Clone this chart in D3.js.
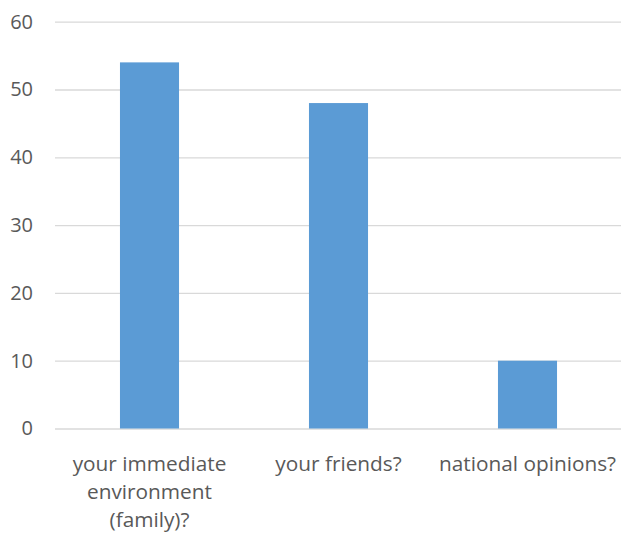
<!DOCTYPE html>
<html><head><meta charset="utf-8">
<script src="https://cdn.jsdelivr.net/npm/d3@7"></script>
<style>body{margin:0;background:#fff}</style>
</head><body>
<script>
const categories = ["your immediate environment (family)?", "your friends?", "national opinions?"];
const categoryLines = [["your immediate", "environment", "(family)?"], ["your friends?"], ["national opinions?"]];
const values = [54, 48, 10];
const yTicks = [0, 10, 20, 30, 40, 50, 60];

const W = 621, H = 534;
const svg = d3.select("body").append("svg").attr("width", W).attr("height", H);
const x = d3.scaleBand().domain(categories).range([55, 622]).paddingInner(0.6875).paddingOuter(0.34375);
const y = d3.scaleLinear().domain([0, 60]).range([428.5, 21.7]);
const font = "'Open Sans', sans-serif";

const yAxis = d3.axisLeft(y).tickValues(yTicks).tickSize(-(622 - 55)).tickPadding(22);
const gy = svg.append("g").attr("transform", "translate(55,0)").call(yAxis);
gy.select(".domain").remove();
gy.selectAll(".tick line").attr("stroke", "#d9d9d9").attr("stroke-width", 1.3);
gy.selectAll(".tick text").attr("fill", "#595959").style("font-family", font).style("font-size", "20px");

svg.append("g").selectAll("rect").data(values).join("rect")
  .attr("x", (d, i) => x(categories[i]))
  .attr("width", x.bandwidth())
  .attr("y", d => y(d))
  .attr("height", d => y(0) - y(d))
  .attr("fill", "#5b9bd5");

const xAxis = d3.axisBottom(x).tickSize(0).tickPadding(0).tickFormat("");
const gx = svg.append("g").attr("transform", `translate(0,${y(0)})`).call(xAxis);
gx.select(".domain").remove();
gx.selectAll(".tick").each(function(d, i) {
  const t = d3.select(this).append("text").attr("fill", "#595959").attr("text-anchor", "middle")
    .style("font-family", font).style("font-size", "20.8px");
  categoryLines[i].forEach((ln, j) => t.append("tspan").attr("x", 0).attr("y", 42 + j * 28).text(ln));
});
</script>
</body></html>
